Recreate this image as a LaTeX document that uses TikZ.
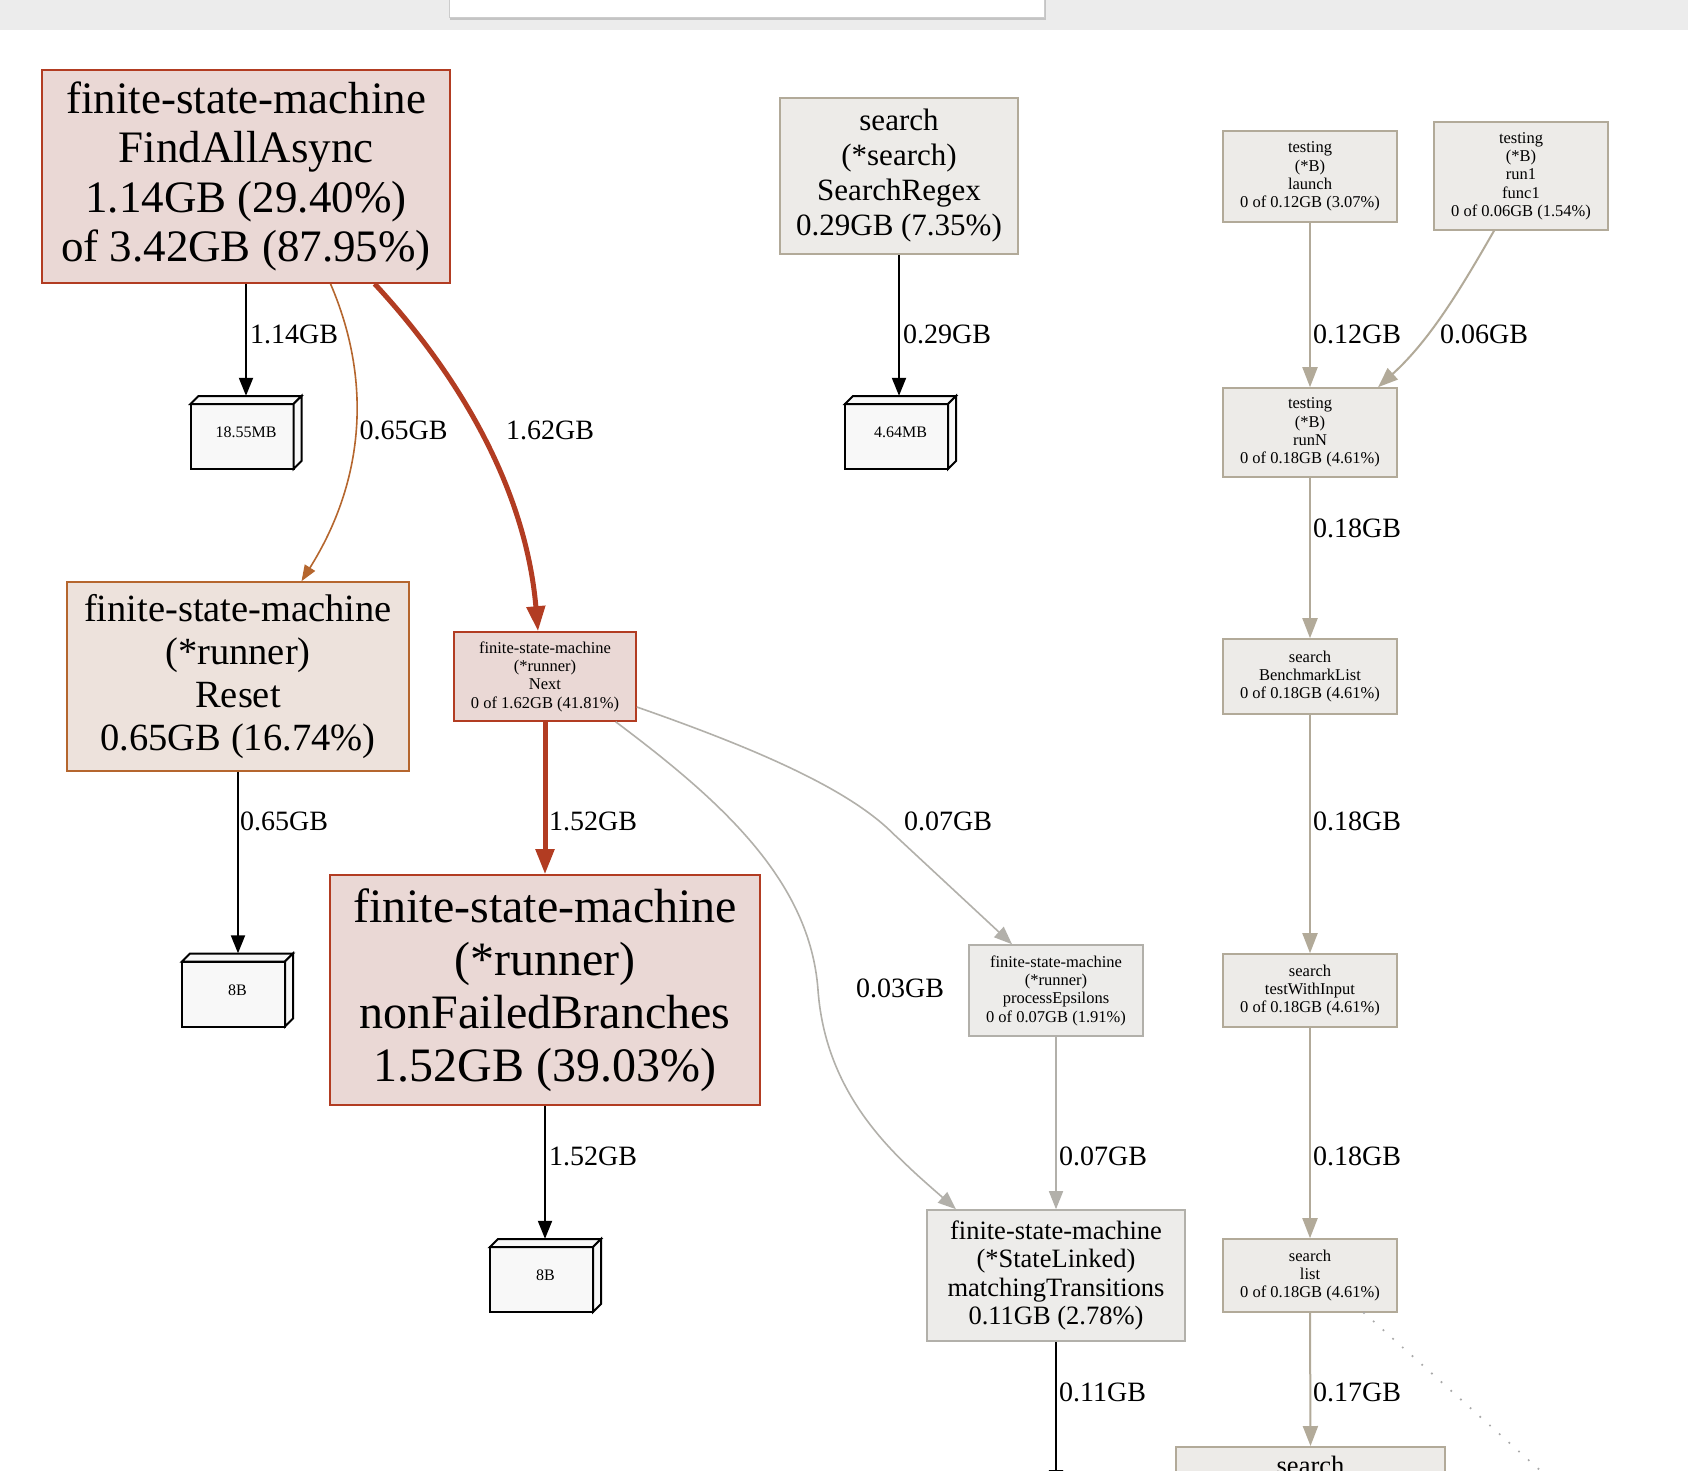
\documentclass[tikz,border=0pt]{standalone}
\usepackage{fontspec}
\setmainfont{Liberation Serif}
\usetikzlibrary{arrows.meta}

\definecolor{hotdraw}{HTML}{B23C22}
\definecolor{hotfill}{HTML}{EAD8D5}
\definecolor{warmdraw}{HTML}{B5662E}
\definecolor{warmfill}{HTML}{EDE2DC}
\definecolor{tandraw}{HTML}{B2AA99}
\definecolor{tanfill}{HTML}{EDEBE8}
\definecolor{greydraw}{HTML}{B2B0AA}
\definecolor{greyfill}{HTML}{EDECEA}
\definecolor{cratefill}{HTML}{F8F8F8}
\definecolor{barfill}{HTML}{ECECEC}
\definecolor{barline}{HTML}{CCCCCC}
\definecolor{barshadow}{HTML}{C4C4C4}
\definecolor{dotgrey}{HTML}{A8A8A8}

% font sizes of the profile graph
\newcommand\fntXL{\fontsize{48pt}{53pt}\selectfont}
\newcommand\fntL{\fontsize{45pt}{49.5pt}\selectfont}
\newcommand\fntML{\fontsize{38.5pt}{43pt}\selectfont}
\newcommand\fntM{\fontsize{31pt}{35pt}\selectfont}
\newcommand\fntMS{\fontsize{26.5pt}{28.3pt}\selectfont}
\newcommand\fntS{\fontsize{16.5pt}{18.3pt}\selectfont}
\newcommand\fntCrate{\fontsize{16pt}{18pt}\selectfont}
\newcommand\fntEdge{\fontsize{28pt}{30pt}\selectfont}

\tikzset{
  pnode/.style={rectangle, line width=1.6pt, inner sep=0pt, align=center},
  hotnode/.style={pnode, draw=hotdraw, fill=hotfill},
  warmnode/.style={pnode, draw=warmdraw, fill=warmfill},
  tannode/.style={pnode, draw=tandraw, fill=tanfill},
  greynode/.style={pnode, draw=greydraw, fill=greyfill},
  cratepen/.style={draw=black, fill=cratefill, line width=2pt},
  crate/.style={inner sep=0pt, minimum width=111pt, minimum height=73pt, font=\fntCrate},
  elabel/.style={anchor=west, inner sep=0pt, font=\fntEdge},
  blackedge/.style={draw=black, line width=2pt, -{Triangle[length=18pt,width=14pt]}},
  hotedge/.style={draw=hotdraw, line width=5pt, -{Triangle[length=25pt,width=18pt]}},
  warmedge/.style={draw=warmdraw, line width=1.6pt, -{Triangle[length=16pt,width=12pt]}},
  tanedge/.style={draw=tandraw, line width=2pt, -{Triangle[length=20pt,width=15pt]}},
  greyedge/.style={draw=greydraw, line width=1.6pt, -{Triangle[length=18pt,width=14pt]}},
  dotedge/.style={draw=dotgrey, line width=2.4pt, line cap=round, dash pattern=on 0pt off 13pt},
}

% a 3D box node: name, centre x, centre y, text
\newcommand\crate[4]{%
  \filldraw[cratepen] (#2-55.5,#3-28.5) rectangle (#2+47.5,#3+36.5);
  \filldraw[cratepen] (#2-55.5,#3-28.5) -- (#2-47.5,#3-36.5) -- (#2+55.5,#3-36.5) -- (#2+47.5,#3-28.5) -- cycle;
  \filldraw[cratepen] (#2+47.5,#3-28.5) -- (#2+55.5,#3-36.5) -- (#2+55.5,#3+28.5) -- (#2+47.5,#3+36.5) -- cycle;
  \node[crate] (#1) at (#2,#3) {#4};
}

\begin{document}
\begin{tikzpicture}[x=1pt,y=-1pt]
\useasboundingbox (0,0) rectangle (1688,1470);
\clip (0,0) rectangle (1688,1470);
\fill[white] (0,0) rectangle (1688,1470);

% toolbar strip with the search box
\fill[barfill] (0,0) rectangle (1688,30);
\fill[barshadow] (450,-5) rectangle (1046,19.5);
\filldraw[fill=white, draw=barline, line width=1pt] (449,-5) rectangle (1044,17);

% function nodes
\node[hotnode, font=\fntL, minimum width=408pt, minimum height=213pt] (fsmFind) at (246,176.5)
  {finite-state-machine\\FindAllAsync\\1.14GB (29.40\%)\\of 3.42GB (87.95\%)};
\node[tannode, font=\fntM, minimum width=238pt, minimum height=156pt] (srch) at (899,176)
  {search\\(*search)\\SearchRegex\\0.29GB (7.35\%)};
\node[tannode, font=\fntS, minimum width=174pt, minimum height=91pt] (launch) at (1310,176.5)
  {testing\\(*B)\\launch\\0 of 0.12GB (3.07\%)};
\node[tannode, font=\fntS, minimum width=174pt, minimum height=108pt] (func1) at (1521,176)
  {testing\\(*B)\\run1\\func1\\0 of 0.06GB (1.54\%)};
\node[tannode, font=\fntS, minimum width=174pt, minimum height=89pt] (runN) at (1310,432.5)
  {testing\\(*B)\\runN\\0 of 0.18GB (4.61\%)};
\node[tannode, font=\fntS, minimum width=174pt, minimum height=75pt] (bench) at (1310,676.5)
  {search\\BenchmarkList\\0 of 0.18GB (4.61\%)};
\node[tannode, font=\fntS, minimum width=174pt, minimum height=73pt] (twi) at (1310,990.5)
  {search\\testWithInput\\0 of 0.18GB (4.61\%)};
\node[tannode, font=\fntS, minimum width=174pt, minimum height=73pt] (list) at (1310,1275.5)
  {search\\list\\0 of 0.18GB (4.61\%)};
\node[tannode, font=\fntMS, minimum width=269pt, anchor=north, text height=28pt, text depth=80pt] (sbot) at (1310.5,1446)
  {search};
\node[warmnode, font=\fntML, minimum width=342pt, minimum height=189pt] (reset) at (238,676.5)
  {finite-state-machine\\(*runner)\\Reset\\0.65GB (16.74\%)};
\node[hotnode, font=\fntS, minimum width=182pt, minimum height=89pt] (next) at (545,676.5)
  {finite-state-machine\\(*runner)\\Next\\0 of 1.62GB (41.81\%)};
\node[hotnode, font=\fntXL, minimum width=430pt, minimum height=230pt] (nfb) at (545,990)
  {finite-state-machine\\(*runner)\\nonFailedBranches\\1.52GB (39.03\%)};
\node[greynode, font=\fntS, minimum width=174pt, minimum height=91pt] (eps) at (1056,990.5)
  {finite-state-machine\\(*runner)\\processEpsilons\\0 of 0.07GB (1.91\%)};
\node[greynode, font=\fntMS, minimum width=258pt, minimum height=131pt] (match) at (1056,1275.5)
  {finite-state-machine\\(*StateLinked)\\matchingTransitions\\0.11GB (2.78\%)};

% allocation boxes
\crate{b1}{246}{432.5}{18.55MB}
\crate{b2}{900.5}{432.5}{4.64MB}
\crate{b3}{237.5}{990}{8B}
\crate{b4}{545.5}{1275.5}{8B}

% free ends of edges leaving the view
\coordinate (offmatch) at (1056,1488);
\coordinate (offlist) at (1590,1515);

% edges
\draw[blackedge] (fsmFind.south) -- (fsmFind.south |- b1.north);
\draw[warmedge] ([xshift=84.5pt]fsmFind.south) .. controls (372,380) and (365,480) .. ([xshift=63.5pt]reset.north);
\draw[hotedge] ([xshift=128.6pt]fsmFind.south) .. controls (450,365) and (525,480) .. ([xshift=-7pt]next.north);
\draw[blackedge] (srch.south) -- (srch.south |- b2.north);
\draw[tanedge] (launch.south) -- (runN.north);
\draw[tanedge] ([xshift=-27pt]func1.south) .. controls (1460,290) and (1430,340) .. ([xshift=68pt]runN.north);
\draw[tanedge] (runN.south) -- (bench.north);
\draw[tanedge] (bench.south) -- (twi.north);
\draw[tanedge] (twi.south) -- (list.north);
\draw[tanedge] (list.south) -- (sbot.north);
\draw[dotedge] ([xshift=54pt]list.south) -- (offlist);
\draw[blackedge] (reset.south) -- (reset.south |- b3.north);
\draw[hotedge] (next.south) -- (nfb.north);
\draw[blackedge] (nfb.south) -- (nfb.south |- b4.north);
\draw[greyedge] ([yshift=-30.5pt]next.east) .. controls (760,750) and (850,790) .. (893.5,834) -- ([xshift=-44pt]eps.north);
\draw[greyedge] ([xshift=70.7pt]next.south) .. controls (720,800) and (810,880) .. (818,990)
  .. controls (826,1100) and (900,1160) .. ([xshift=-100pt]match.north);
\draw[greyedge] (eps.south) -- (match.north);
\draw[blackedge] (match.south) -- (offmatch);

% edge labels
\node[elabel] (l1) at (250,334) {1.14GB};
\node[elabel] (l2) at (359.5,430.6) {0.65GB};
\node[elabel] (l3) at (506,430.6) {1.62GB};
\node[elabel] (l4) at (903,334) {0.29GB};
\node[elabel] (l5) at (1313,334) {0.12GB};
\node[elabel] (l6) at (1440,334) {0.06GB};
\node[elabel] (l7) at (1313,528.6) {0.18GB};
\node[elabel] (l8) at (240,821) {0.65GB};
\node[elabel] (l9) at (549,821) {1.52GB};
\node[elabel] (l10) at (904,821) {0.07GB};
\node[elabel] (l11) at (1313,821) {0.18GB};
\node[elabel] (l12) at (856,988) {0.03GB};
\node[elabel] (l13) at (549,1156) {1.52GB};
\node[elabel] (l14) at (1059,1156) {0.07GB};
\node[elabel] (l15) at (1313,1156) {0.18GB};
\node[elabel] (l16) at (1059,1392) {0.11GB};
\node[elabel] (l17) at (1313,1392) {0.17GB};
\end{tikzpicture}
\end{document}
